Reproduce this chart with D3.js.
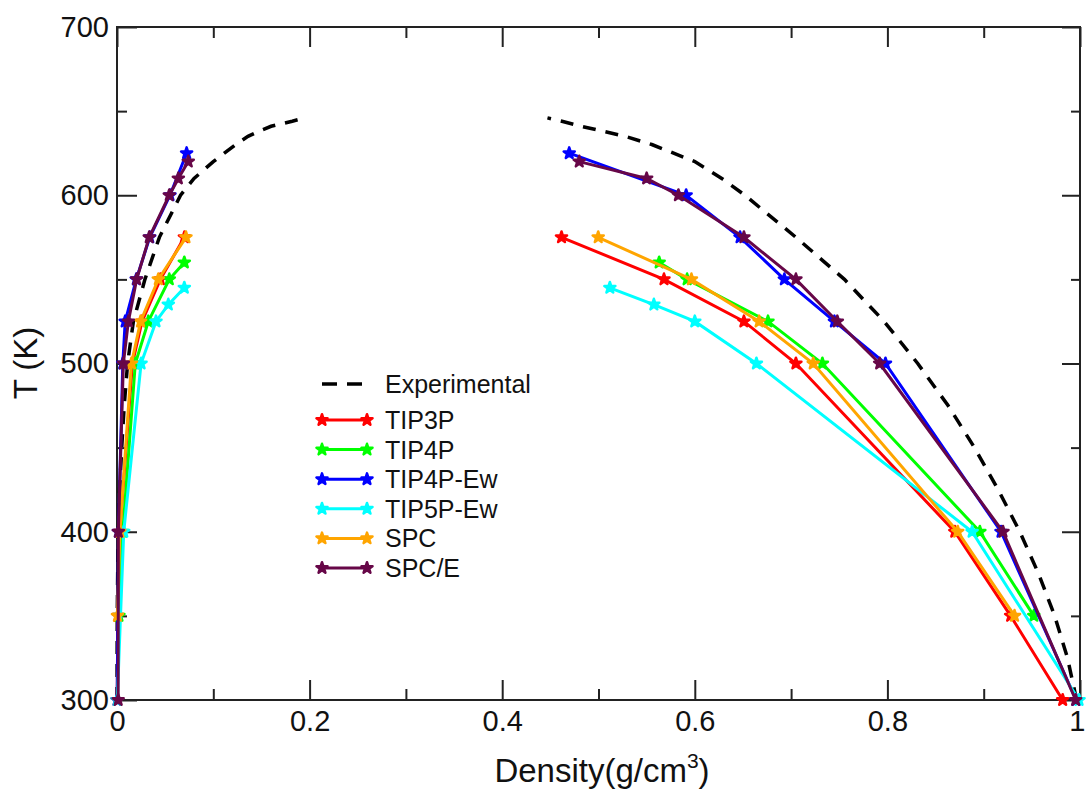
<!DOCTYPE html>
<html>
<head>
<meta charset="utf-8">
<script src="https://cdn.jsdelivr.net/npm/d3@7"></script>
<style>
  body { margin: 0; background: #fff; }
  text { font-family: "Liberation Sans", Arial, sans-serif; fill: #111; }
</style>
</head>
<body>
<div id="chart"></div>
<script>
const width = 1086;
const height = 789;
const margin = { top: 27, right: 6, bottom: 89, left: 117 };

// experimental coexistence curve (T in K, density in g/cm3)
const expT = [300, 325, 350, 375, 400, 425, 450, 475, 500, 525, 550, 575, 600, 610, 620, 630, 635, 638, 641, 644, 646];
const expLiquid = [0.9965, 0.987, 0.9737, 0.957, 0.9375, 0.915, 0.8904, 0.863, 0.8315, 0.7966, 0.7554, 0.705, 0.652, 0.628, 0.600, 0.556, 0.528, 0.505, 0.482, 0.462, 0.447];
const expVapor = [0.00003, 0.0001, 0.00026, 0.0007, 0.0014, 0.0027, 0.0049, 0.0075, 0.011, 0.017, 0.029, 0.044, 0.066, 0.080, 0.100, 0.123, 0.136, 0.147, 0.160, 0.182, 0.195];

// simulated models
const tip3pT = [575, 550, 525, 500, 400, 350, 300];
const tip3pLiquid = [0.4616, 0.568, 0.651, 0.705, 0.870, 0.928, 0.982];
const tip3pVapor = [0.070, 0.045, 0.026, 0.016, 0.003, 0.001, 0.0002];

const tip4pT = [560, 550, 525, 500, 400, 350];
const tip4pLiquid = [0.563, 0.592, 0.676, 0.7325, 0.896, 0.952];
const tip4pVapor = [0.0699, 0.0543, 0.0325, 0.019, 0.006, 0.002];

const tip4pEwT = [625, 600, 575, 550, 525, 500, 400, 300];
const tip4pEwLiquid = [0.4696, 0.591, 0.647, 0.693, 0.745, 0.798, 0.918, 0.996];
const tip4pEwVapor = [0.0723, 0.055, 0.034, 0.020, 0.0085, 0.006, 0.0015, 0.0002];

const tip5pEwT = [545, 535, 525, 500, 400, 300];
const tip5pEwLiquid = [0.5118, 0.5575, 0.600, 0.664, 0.888, 0.999];
const tip5pEwVapor = [0.0699, 0.0533, 0.0405, 0.025, 0.007, 0.0003];

const spcT = [575, 550, 525, 500, 400, 350];
const spcLiquid = [0.4997, 0.5965, 0.6668, 0.723, 0.873, 0.932];
const spcVapor = [0.0716, 0.0429, 0.0245, 0.015, 0.003, 0.0005];

const spceT = [620, 610, 600, 575, 550, 525, 500, 400, 300];
const spceLiquid = [0.480, 0.550, 0.583, 0.651, 0.705, 0.748, 0.792, 0.920, 0.9955];
const spceVapor = [0.074, 0.0637, 0.0543, 0.0335, 0.0204, 0.0118, 0.0066, 0.0014, 0.0012];

const xTicks = [0, 0.2, 0.4, 0.6, 0.8, 1];
const xMinor = [0.1, 0.3, 0.5, 0.7, 0.9];
const yTicks = [300, 400, 500, 600, 700];
const yMinor = [350, 450, 550, 650];

const series = [
    { name: "TIP3P", color: "#ff0000", T: tip3pT, liq: tip3pLiquid, vap: tip3pVapor },
    { name: "TIP4P", color: "#00ff00", T: tip4pT, liq: tip4pLiquid, vap: tip4pVapor },
    { name: "TIP4P-Ew", color: "#0000ff", T: tip4pEwT, liq: tip4pEwLiquid, vap: tip4pEwVapor },
    { name: "TIP5P-Ew", color: "#00ffff", T: tip5pEwT, liq: tip5pEwLiquid, vap: tip5pEwVapor },
    { name: "SPC", color: "#ffa500", T: spcT, liq: spcLiquid, vap: spcVapor },
    { name: "SPC/E", color: "#670748", T: spceT, liq: spceLiquid, vap: spceVapor }
];

const svg = d3.select("#chart")
    .append("svg")
    .attr("width", width)
    .attr("height", height);

const iw = width - margin.left - margin.right;
const ih = height - margin.top - margin.bottom;

const x = d3.scaleLinear().domain([0, 1]).range([0, iw]);
const y = d3.scaleLinear().domain([300, 700]).range([ih, 0]);

const g = svg.append("g").attr("transform", `translate(${margin.left},${margin.top})`);

// ------------------
// axes (ticks inward on all four sides)
// ------------------
function styleAxis(sel) {
    sel.select(".domain").remove();
    sel.selectAll("line").attr("stroke", "#222").attr("stroke-width", 2);
    sel.selectAll("text").style("font-size", "29px").attr("fill", "#111");
}

const xAxisG = g.append("g").attr("transform", `translate(0,${ih})`)
    .call(d3.axisBottom(x).tickValues(xTicks).tickFormat(d3.format("")).tickSizeInner(-20).tickSizeOuter(0).tickPadding(10))
    .call(styleAxis);
// last label sits on the right edge, keep it inside the page
xAxisG.selectAll(".tick text").filter(d => d === 1).attr("text-anchor", "end").attr("x", 5);

g.append("g").attr("transform", `translate(0,${ih})`)
    .call(d3.axisBottom(x).tickValues(xMinor).tickFormat("").tickSizeInner(-11).tickSizeOuter(0))
    .call(styleAxis);
g.append("g")
    .call(d3.axisTop(x).tickValues(xTicks).tickFormat("").tickSizeInner(-20).tickSizeOuter(0))
    .call(styleAxis);
g.append("g")
    .call(d3.axisTop(x).tickValues(xMinor).tickFormat("").tickSizeInner(-11).tickSizeOuter(0))
    .call(styleAxis);

g.append("g")
    .call(d3.axisLeft(y).tickValues(yTicks).tickSizeInner(-20).tickSizeOuter(0).tickPadding(8))
    .call(styleAxis);
g.append("g")
    .call(d3.axisLeft(y).tickValues(yMinor).tickFormat("").tickSizeInner(-10).tickSizeOuter(0))
    .call(styleAxis);
g.append("g").attr("transform", `translate(${iw},0)`)
    .call(d3.axisRight(y).tickValues(yTicks).tickFormat("").tickSizeInner(-18).tickSizeOuter(0))
    .call(styleAxis);
g.append("g").attr("transform", `translate(${iw},0)`)
    .call(d3.axisRight(y).tickValues(yMinor).tickFormat("").tickSizeInner(-9).tickSizeOuter(0))
    .call(styleAxis);

// frame
g.append("rect")
    .attr("width", iw)
    .attr("height", ih)
    .attr("fill", "none")
    .attr("stroke", "#222")
    .attr("stroke-width", 2);

// ------------------
// curves
// ------------------
const line = d3.line().x(d => x(d[0])).y(d => y(d[1]));
const sym = d3.symbol().type(d3.symbolStar).size(38);

const expLiqPts = expT.map((t, i) => [expLiquid[i], t]);
const expVapPts = expT.map((t, i) => [expVapor[i], t]);

[expVapPts, expLiqPts].forEach(pts => {
    g.append("path")
        .attr("d", line(pts))
        .attr("fill", "none")
        .attr("stroke", "#000")
        .attr("stroke-width", 3.5)
        .attr("stroke-dasharray", "13,10");
});

series.forEach(s => {
    const liqPts = s.T.map((t, i) => [s.liq[i], t]);
    const vapPts = s.T.map((t, i) => [s.vap[i], t]);

    [vapPts, liqPts].forEach(pts => {
        g.append("path")
            .attr("d", line(pts))
            .attr("fill", "none")
            .attr("stroke", s.color)
            .attr("stroke-width", 3);

        g.selectAll(null)
            .data(pts)
            .enter()
            .append("path")
            .attr("d", sym)
            .attr("transform", d => `translate(${x(d[0])},${y(d[1])})`)
            .attr("fill", s.color)
            .attr("stroke", s.color)
            .attr("stroke-width", 2.5)
            .attr("stroke-linejoin", "round");
    });
});

// ------------------
// legend
// ------------------
const legend = svg.append("g");
const lx1 = 322, lx2 = 367, tx = 385;

legend.append("line")
    .attr("x1", lx1).attr("x2", lx2)
    .attr("y1", 384).attr("y2", 384)
    .attr("stroke", "#000")
    .attr("stroke-width", 3.5)
    .attr("stroke-dasharray", "15,10");
legend.append("text")
    .attr("x", tx).attr("y", 393)
    .style("font-size", "25px")
    .text("Experimental");

series.forEach((s, i) => {
    const ly = 420 + i * 29.6;
    legend.append("line")
        .attr("x1", lx1).attr("x2", lx2)
        .attr("y1", ly).attr("y2", ly)
        .attr("stroke", s.color)
        .attr("stroke-width", 3);
    [lx1, lx2].forEach(px => {
        legend.append("path")
            .attr("d", sym)
            .attr("transform", `translate(${px},${ly})`)
            .attr("fill", s.color)
            .attr("stroke", s.color)
            .attr("stroke-width", 2.5)
            .attr("stroke-linejoin", "round");
    });
    legend.append("text")
        .attr("x", tx).attr("y", ly + 9)
        .style("font-size", "25px")
        .text(s.name);
});

// ------------------
// axis titles
// ------------------
svg.append("text")
    .attr("transform", "translate(37,363) rotate(-90)")
    .attr("text-anchor", "middle")
    .style("font-size", "33px")
    .text("T (K)");

const xt = svg.append("text")
    .attr("x", 602)
    .attr("y", 782)
    .attr("text-anchor", "middle")
    .style("font-size", "33px");
xt.append("tspan").text("Density(g/cm");
xt.append("tspan").attr("dy", -14).style("font-size", "21px").text("3");
xt.append("tspan").attr("dy", 14).text(")");
</script>
</body>
</html>
